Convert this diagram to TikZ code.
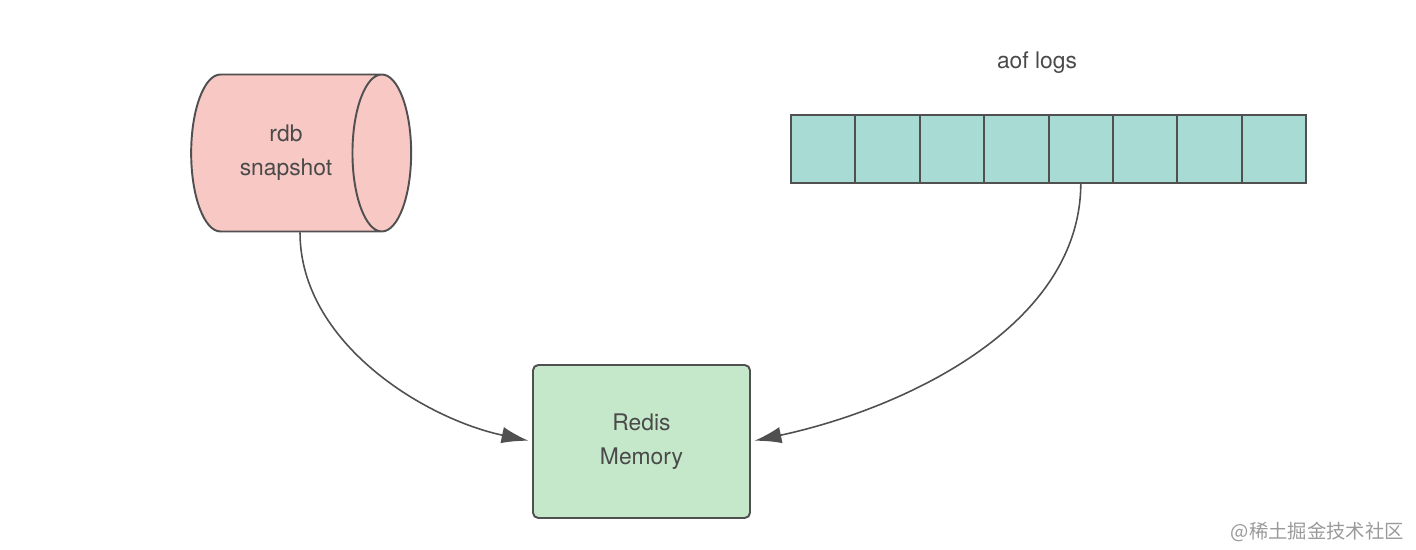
\documentclass[tikz,border=0pt]{standalone}
\usepackage{fontspec}
\setmainfont{TeX Gyre Heros}
\newfontfamily\cjk{Noto Sans CJK SC}
\usetikzlibrary{arrows.meta,positioning,shapes.geometric}
\definecolor{ink}    {HTML}{4A4A4A}
\definecolor{edge}   {HTML}{505050}
\definecolor{rdbbg}  {HTML}{F8C8C4}
\definecolor{aofbg}  {HTML}{A8DBD3}
\definecolor{membg}  {HTML}{C6E8CA}
\definecolor{mark}   {HTML}{9A9A9A}
\tikzset{
  diskstore/.style={
    cylinder, shape aspect=1.05,
    draw=edge, line width=1.1pt, fill=rdbbg,
    text=ink, font=\fontsize{13}{19.5}\selectfont, align=center,
    minimum width=3.14cm, minimum height=4.4cm, inner sep=0pt
  },
  logcell/.style={
    rectangle, draw=edge, line width=1.1pt, fill=aofbg,
    minimum width=1.288cm, minimum height=1.36cm,
    inner sep=0pt, outer sep=0pt
  },
  membox/.style={
    rectangle, rounded corners=3pt,
    draw=edge, line width=1.1pt, fill=membg,
    text=ink, font=\fontsize{13}{19.5}\selectfont, align=center,
    minimum width=4.34cm, minimum height=3.06cm
  },
  loadarrow/.style={
    -{Latex[length=5.4mm, width=3.3mm]}, line width=0.9pt, draw=edge,
    shorten >=2pt
  }
}

\begin{document}
\begin{tikzpicture}
    \useasboundingbox (0,0) rectangle (28.32,11);

    % rdb file and the aof log
    \node[diskstore] (rdb) at (5.72,7.94) {rdb\\snapshot};
    \node[logcell] (c1) at (16.464,8.02) {};
    \foreach \i [count=\j from 1] in {2,...,8}
      \node[logcell, right=0pt of c\j] (c\i) {};
    \node[text=ink, font=\fontsize{13}{16}\selectfont] (aof) at (20.74,9.74) {aof logs};

    % memory
    \node[membox] (mem) at (12.83,2.17) {Redis\\Memory};

    \draw[loadarrow] ([xshift=0.28cm]rdb.south) to[out=-90, in=168, looseness=0.9] (mem.west);
    \draw[loadarrow] (c5.south) to[out=-90, in=12, looseness=0.9] (mem.east);

    \node[text=mark, font=\cjk\fontsize{11}{13}\selectfont, anchor=east] (wm) at (28.2,0.36) {@稀土掘金技术社区};
\end{tikzpicture}
\end{document}
